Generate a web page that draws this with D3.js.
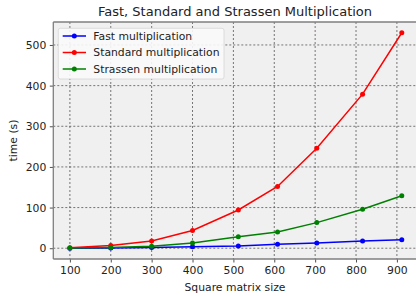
<!DOCTYPE html>
<html>
<head>
<meta charset="utf-8">
<script src="https://cdn.jsdelivr.net/npm/d3@7"></script>
<style>
  body { margin: 0; background: #fff; }
  svg { display: block; font-family: "DejaVu Sans", sans-serif; }
</style>
</head>
<body>
<svg id="chart" width="416" height="296"></svg>
<script>
// matrix sizes and timings (seconds)
var sizes = [100, 200, 300, 400, 512, 608, 704, 816, 912];
var fastTimes = [0.2, 0.8, 1.8, 3.5, 5.7, 10, 13, 18, 21];
var standardTimes = [1, 6.6, 18, 43.5, 94, 152, 246, 379, 530];
var strassenTimes = [0.5, 2, 5, 13, 28, 40, 63, 96, 129];
var xTicks = [100, 200, 300, 400, 500, 600, 700, 800, 900];
var yTicks = [0, 100, 200, 300, 400, 500];

var series = [
  {name: 'Fast multiplication', color: '#0000ff', values: fastTimes},
  {name: 'Standard multiplication', color: '#ff0000', values: standardTimes},
  {name: 'Strassen multiplication', color: '#008000', values: strassenTimes}
];

var svg = d3.select('#chart');
// plot area edges (right spine falls just outside the picture)
var pLeft = 53.3, pTop = 22, pRight = 418.4, pBottom = 259;
var fs = 10.8;

var x = d3.scaleLinear().domain([59.4, 952.6]).range([pLeft, pRight]);
var y = d3.scaleLinear().domain([-26.5, 556.5]).range([pBottom, pTop]);

svg.append('rect')
  .attr('x', pLeft).attr('y', pTop)
  .attr('width', pRight - pLeft).attr('height', pBottom - pTop)
  .attr('fill', '#f0f0f0');

// grid
var grid = svg.append('g');
grid.selectAll('.gx').data(xTicks).enter().append('line')
  .attr('x1', function(d){ return x(d); }).attr('x2', function(d){ return x(d); })
  .attr('y1', pTop).attr('y2', pBottom)
  .attr('stroke', '#555').attr('stroke-width', 0.8).attr('stroke-dasharray', '2,2');
grid.selectAll('.gy').data(yTicks).enter().append('line')
  .attr('y1', function(d){ return y(d); }).attr('y2', function(d){ return y(d); })
  .attr('x1', pLeft).attr('x2', pRight)
  .attr('stroke', '#555').attr('stroke-width', 0.8).attr('stroke-dasharray', '2,2');

// axes
var xAxis = d3.axisBottom(x).tickValues(xTicks).tickSize(3.5).tickPadding(3.5);
var yAxis = d3.axisLeft(y).tickValues(yTicks).tickSize(3.5).tickPadding(3.5);

var gx = svg.append('g').attr('transform', 'translate(0,' + pBottom + ')').call(xAxis);
var gy = svg.append('g').attr('transform', 'translate(' + pLeft + ',0)').call(yAxis);
[gx, gy].forEach(function(g){
  g.select('.domain').remove();
  g.selectAll('.tick line').attr('stroke', '#222').attr('stroke-width', 0.8);
  g.selectAll('.tick text').attr('fill', '#222').attr('font-size', fs)
    .attr('font-family', '"DejaVu Sans", sans-serif');
});

// spines
svg.append('line').attr('x1', pLeft).attr('x2', pLeft).attr('y1', pTop).attr('y2', pBottom)
  .attr('stroke', '#7f7f7f').attr('stroke-width', 1.3);
svg.append('line').attr('x1', pLeft).attr('x2', pRight).attr('y1', pBottom).attr('y2', pBottom)
  .attr('stroke', '#7f7f7f').attr('stroke-width', 1.3);
svg.append('line').attr('x1', pLeft).attr('x2', pRight).attr('y1', pTop).attr('y2', pTop)
  .attr('stroke', '#7f7f7f').attr('stroke-width', 1.3);

// lines
var line = d3.line()
  .x(function(d, i){ return x(sizes[i]); })
  .y(function(d){ return y(d); });

series.forEach(function(s){
  svg.append('path').datum(s.values)
    .attr('d', line).attr('fill', 'none')
    .attr('stroke', s.color).attr('stroke-width', 1.5);
  svg.selectAll(null).data(s.values).enter().append('circle')
    .attr('cx', function(d, i){ return x(sizes[i]); })
    .attr('cy', function(d){ return y(d); })
    .attr('r', 2.5).attr('fill', s.color);
});

// title and labels
svg.append('text').attr('x', 235).attr('y', 16).attr('text-anchor', 'middle')
  .attr('font-size', 13).attr('fill', '#222').text('Fast, Standard and Strassen Multiplication');
svg.append('text').attr('x', 235).attr('y', 290.5).attr('text-anchor', 'middle')
  .attr('font-size', fs).attr('fill', '#222').text('Square matrix size');
svg.append('text').attr('transform', 'translate(17,' + ((pTop + pBottom) / 2) + ') rotate(-90)')
  .attr('text-anchor', 'middle').attr('font-size', fs).attr('fill', '#222').text('time (s)');

// legend
var lg = svg.append('g');
lg.append('rect').attr('x', 58.3).attr('y', 28.3).attr('width', 165.7).attr('height', 50.7)
  .attr('rx', 2).attr('fill', '#fafafa').attr('fill-opacity', 0.9)
  .attr('stroke', '#d6d6d6').attr('stroke-width', 0.8);
var rows = lg.selectAll('.row').data(series).enter().append('g')
  .attr('transform', function(d, i){ return 'translate(0,' + (36 + i * 16.5) + ')'; });
rows.append('line').attr('x1', 62.7).attr('x2', 86).attr('y1', 0).attr('y2', 0)
  .attr('stroke', function(d){ return d.color; }).attr('stroke-width', 1.5);
rows.append('circle').attr('cx', 74.3).attr('cy', 0).attr('r', 2.5)
  .attr('fill', function(d){ return d.color; });
rows.append('text').attr('x', 93.3).attr('y', 3.9).attr('font-size', fs).attr('fill', '#222')
  .text(function(d){ return d.name; });
</script>
</body>
</html>
